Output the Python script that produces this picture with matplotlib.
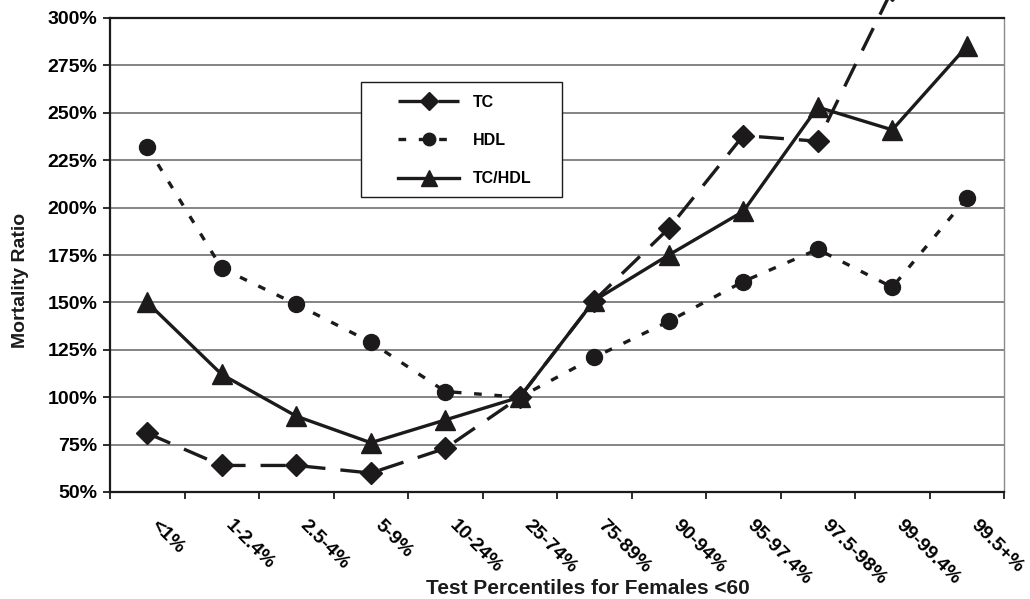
import numpy as np
import matplotlib
matplotlib.use('Agg')
import matplotlib.pyplot as plt
from matplotlib.lines import Line2D
from matplotlib.patches import Rectangle
from matplotlib.transforms import ScaledTranslation

plt.rcParams['font.family'] = ['Liberation Sans', 'DejaVu Sans']
plt.rcParams['font.weight'] = 'bold'

categories = ['<1%', '1-2.4%', '2.5-4%', '5-9%', '10-24%', '25-74%',
              '75-89%', '90-94%', '95-97.4%', '97.5-98%', '99-99.4%', '99.5+%']
tc = [81, 64, 64, 60, 73, 100, 151, 189, 238, 235, 315, 330]
hdl = [232, 168, 149, 129, 103, 100, 121, 140, 161, 178, 158, 205]
tc_hdl = [150, 112, 90, 76, 88, 100, 151, 175, 198, 253, 241, 285]
yticks = [50, 75, 100, 125, 150, 175, 200, 225, 250, 275, 300]

ink = '#1c1a1b'
x = np.arange(len(categories))

fig = plt.figure(figsize=(10.30, 5.99), dpi=100)
ax = fig.add_axes([110/1030, 1 - 492/599, 894/1030, 474/599])

ax.plot(x, tc, color=ink, lw=2.4, dashes=(7.5, 4.5), marker='D', ms=11,
        clip_on=False, zorder=4)
ax.plot(x, hdl, color=ink, lw=2.4, dashes=(2.3, 3.8), marker='o', ms=11.5,
        zorder=4)
ax.plot(x, tc_hdl, color=ink, lw=2.4, ls='-', marker='^', ms=14,
        zorder=5)

ax.set_xlim(-0.5, len(categories) - 0.5)
ax.set_ylim(50, 300)
ax.set_yticks(yticks)
ax.set_yticklabels([f'{v}%' for v in yticks], fontsize=14, fontweight='bold')
ax.yaxis.grid(True, color='#707070', lw=1.2)
ax.set_axisbelow(True)

ax.set_xticks(np.arange(-0.5, len(categories), 1.0))
ax.set_xticklabels([])
ax.set_xticks(x, minor=True)
ax.set_xticklabels(categories, minor=True, rotation=-45, ha='left', va='top',
                   rotation_mode='anchor', fontsize=14, fontweight='bold')
ax.tick_params(axis='x', which='major', length=5, width=1.3, direction='out', color=ink)
ax.tick_params(axis='x', which='minor', length=0, pad=18)
ax.tick_params(axis='y', length=5, width=1.3, direction='out', pad=4, color=ink)
for lab in ax.get_xticklabels(minor=True):
    lab.set_transform(lab.get_transform() + ScaledTranslation(9/72, 0, fig.dpi_scale_trans))

for side in ['left', 'bottom', 'top']:
    ax.spines[side].set_color(ink)
    ax.spines[side].set_linewidth(1.6)
ax.spines['right'].set_color('#8a8a8a')
ax.spines['right'].set_linewidth(1.0)

# legend box
box = Rectangle((0.2808, 0.6224), 0.2248, 0.2426, transform=ax.transAxes,
                facecolor='white', edgecolor=ink, lw=1.0, zorder=3)
ax.add_patch(box)
handles = [
    Line2D([], [], color=ink, lw=2.4, dashes=(7.5, 4.5), marker='D', ms=9),
    Line2D([], [], color=ink, lw=2.4, dashes=(2.3, 3.8), marker='o', ms=9),
    Line2D([], [], color=ink, lw=2.4, ls='-', marker='^', ms=11),
]
leg = ax.legend(handles, ['TC', 'HDL', 'TC/HDL'], loc='upper left',
                bbox_to_anchor=(0.322, 0.838), frameon=False, borderpad=0,
                borderaxespad=0, handlelength=3.85,
                handletextpad=0.85, labelspacing=1.45,
                prop={'weight': 'bold', 'size': 11.5})
leg.set_zorder(6)

fig.text(21/1030, 1 - 280/599, 'Mortality Ratio', rotation=90, ha='center',
         va='center', fontsize=14, fontweight='bold', color=ink)
fig.text(588/1030, 1 - 589/599, 'Test Percentiles for Females <60', ha='center',
         va='center', fontsize=15, fontweight='bold', color=ink)

fig.savefig('out.png', dpi=100)
